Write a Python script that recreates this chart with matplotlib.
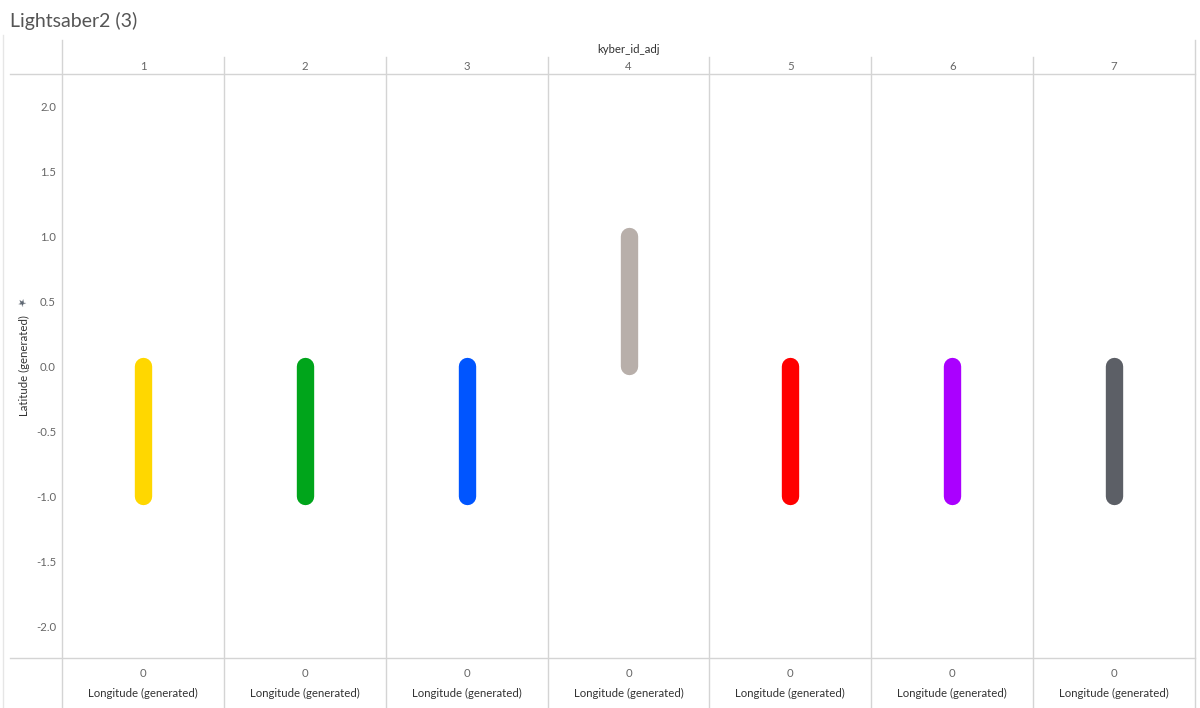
import matplotlib
matplotlib.use("Agg")
import matplotlib.pyplot as plt
from matplotlib.lines import Line2D

plt.rcParams['font.family'] = ['Lato', 'DejaVu Sans']

kyber_ids = ["1", "2", "3", "4", "5", "6", "7"]
lat_start = [0.0, 0.0, 0.0, 1.0, 0.0, 0.0, 0.0]
lat_end = [-1.0, -1.0, -1.0, 0.0, -1.0, -1.0, -1.0]
colors = ["#FFD700", "#00A51B", "#0055FF", "#B8AFAA", "#FF0000", "#AA00FF", "#5C5F66"]
yticks = [2.0, 1.5, 1.0, 0.5, 0.0, -0.5, -1.0, -1.5, -2.0]
ylim = (-2.25, 2.25)

W, H = 1200, 708
fig = plt.figure(figsize=(W / 100, H / 100), dpi=100)

def fx(px):
    return px / W

def fy(py):
    return 1 - py / H

left, right = 62, 1195
top, bottom = 74, 658
n = len(kyber_ids)
pw = (right - left) / n
gc = "#D4D4D4"
dy = 1.5  # text baseline nudge

def fline(x0, y0, x1, y1, c=gc, lw=1.0):
    fig.add_artist(Line2D([fx(x0), fx(x1)], [fy(y0), fy(y1)], color=c, lw=lw))

fline(10, top, right, top)
fline(10, bottom, right, bottom)
fline(left, 40, left, H)
fline(right, 40, right, H)
fline(3, 35, 3, H, c="#E6E6E6")
for i in range(1, n):
    x = left + i * pw
    fline(x, 57, x, H)

for i, k in enumerate(kyber_ids):
    x0 = left + i * pw
    ax = fig.add_axes([fx(x0), fy(bottom), pw / W, (bottom - top) / H])
    ax.set_xlim(-1, 1)
    ax.set_ylim(*ylim)
    ax.axis("off")
    ax.plot([0, 0], [lat_start[i], lat_end[i]], color=colors[i], lw=12.5,
            solid_capstyle="round")
    cx = x0 + pw / 2
    fig.text(fx(cx), fy(65 + dy), k, ha="center", va="center", fontsize=8.2, color="#666666")
    fig.text(fx(cx), fy(672 + dy), "0", ha="center", va="center", fontsize=8.2, color="#666666")
    fig.text(fx(cx), fy(692 + dy), "Longitude (generated)", ha="center", va="center",
             fontsize=8.2, color="#333333")

scale = (bottom - top) / (ylim[1] - ylim[0])
for t in yticks:
    py = top + (ylim[1] - t) * scale
    fig.text(fx(56), fy(py + dy), f"{t:.1f}", ha="right", va="center", fontsize=8.2, color="#666666")

fig.text(fx(24), fy(366), "Latitude (generated)", rotation=90, ha="center", va="center",
         fontsize=8.2, color="#333333")
fig.text(fx(23), fy(303), "\u2605", rotation=45, ha="center", va="center",
         fontsize=7, color="#5C6570")

fig.text(fx(628), fy(48 + dy), "kyber_id_adj", ha="center", va="center", fontsize=8.2, color="#333333")
fig.text(fx(10), fy(21), "Lightsaber2 (3)", ha="left", va="center", fontsize=14, color="#555555")

fig.savefig("out.png", dpi=100, facecolor="white")
